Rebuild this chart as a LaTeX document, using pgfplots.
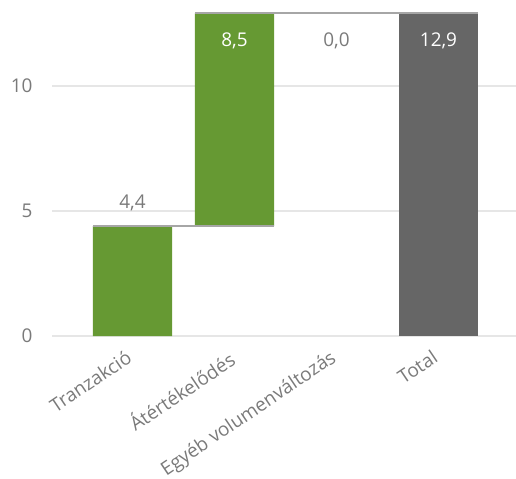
\documentclass[border=0pt]{standalone}
\usepackage{pgfplots}
\pgfplotsset{compat=1.18}
\usepackage{pgfplotstable}
\usepackage{fontspec}
\setmainfont{Open Sans}
\definecolor{barGreen}{HTML}{669933}
\definecolor{barGray}{HTML}{666666}
\definecolor{txtGray}{HTML}{7A7A7A}
\definecolor{gridGray}{HTML}{E6E6E6}
\definecolor{connGray}{HTML}{A6A6A6}

\pgfplotstableread{
x base inc tot
0 0    4.4 0
1 4.4  8.5 0
2 12.9 0   0
3 0    0   12.9
}\wfdata

\pgfplotstableread{
x y lab
0 5.32 4,4
2 11.8 0,0
}\labgray
\pgfplotstableread{
x y lab
1 11.8 8,5
3 11.8 12,9
}\labwhite

\pgfplotsset{common/.style={
  at={(0,0)}, anchor=south west,
  scale only axis,
  width=464bp, height=324bp,
  xmin=-0.789, xmax=3.760,
  ymin=0, ymax=12.96,
  clip=false,
}}

\begin{document}
\begin{tikzpicture}
\useasboundingbox (-52bp,-143bp) rectangle (464bp,336bp);
\begin{axis}[
  common,
  ybar stacked,
  bar width=0.775,
  axis line style={draw=none},
  ytick={0,5,10},
  xtick={0,1,2,3},
  xticklabels={Tranzakció, Átértékelődés, Egyéb volumenváltozás, Total},
  major tick length=0pt,
  ymajorgrids,
  grid style={gridGray, line width=1.3bp},
  yticklabel style={font=\fontsize{19}{22}\selectfont, text=txtGray, anchor=east, xshift=-16bp},
  xticklabel style={font=\fontsize{19}{22}\selectfont, text=txtGray, rotate=34, anchor=north east, yshift=-3bp, xshift=-10bp},
  /pgf/number format/assume math mode=true,
]
\addplot[fill=none, draw=none] table[x=x, y=base] {\wfdata};
\addplot[fill=barGreen, draw=none] table[x=x, y=inc] {\wfdata};
\addplot[fill=barGray, draw=none] table[x=x, y=tot] {\wfdata};
\end{axis}
\begin{axis}[
  common,
  hide axis,
]
\addplot[sharp plot, no markers, draw=connGray, line width=2bp]
  coordinates {(-0.3875,4.4) (1.3875,4.4)};
\addplot[sharp plot, no markers, draw=connGray, line width=2bp]
  coordinates {(0.6125,12.9) (3.3875,12.9)};
\addplot[only marks, mark=none, nodes near coords, point meta=explicit symbolic,
  nodes near coords style={anchor=center, text=txtGray, font=\fontsize{19}{22}\selectfont}]
  table[x=x, y=y, meta=lab] {\labgray};
\addplot[only marks, mark=none, nodes near coords, point meta=explicit symbolic,
  nodes near coords style={anchor=center, text=white, font=\fontsize{19}{22}\selectfont}]
  table[x=x, y=y, meta=lab] {\labwhite};
\end{axis}
\end{tikzpicture}
\end{document}
